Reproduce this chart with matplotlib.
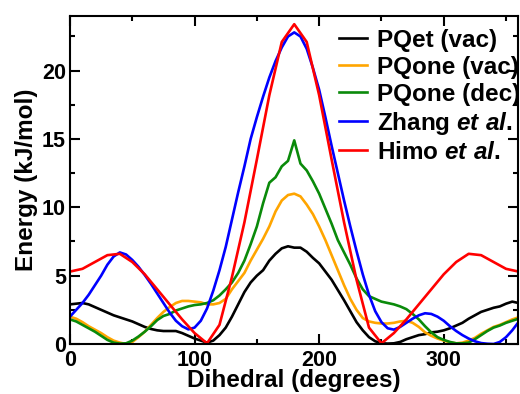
import numpy as np
import matplotlib
matplotlib.use("Agg")
import matplotlib.pyplot as plt
from matplotlib.ticker import MultipleLocator

plt.rcParams['font.family'] = ['Liberation Sans', 'DejaVu Sans']
plt.rcParams['font.weight'] = 'bold'
plt.rcParams['mathtext.fontset'] = 'custom'
plt.rcParams['mathtext.it'] = 'Liberation Sans:italic:bold'
plt.rcParams['mathtext.rm'] = 'Liberation Sans:bold'

# dihedral grid (degrees)
angle5 = np.arange(0, 361, 5)
angle10 = np.arange(0, 361, 10)

labels = ["PQet (vac)", "PQone (vac)", "PQone (dec)",
          r"Zhang $\mathit{et\ al.}$", r"Himo $\mathit{et\ al.}$"]

pqet_vac = [2.90, 2.95, 3.00, 2.90, 2.70, 2.50, 2.30, 2.10, 1.95, 1.80,
            1.65, 1.45, 1.25, 1.10, 1.00, 0.95, 0.95, 0.95, 0.80, 0.60,
            0.40, 0.25, 0.10, 0.25, 0.65, 1.20, 2.00, 2.90, 3.80, 4.50,
            5.00, 5.40, 6.10, 6.60, 7.00, 7.15, 7.05, 7.05, 6.75, 6.30,
            5.90, 5.30, 4.70, 3.95, 3.20, 2.40, 1.60, 1.00, 0.50, 0.20,
            0.05, 0.03, 0.05, 0.15, 0.35, 0.50, 0.65, 0.72, 0.85, 0.90,
            1.00, 1.15, 1.35, 1.55, 1.85, 2.10, 2.35, 2.50, 2.65, 2.75,
            2.95, 3.10, 3.00]

pqone_vac = [2.00, 1.85, 1.60, 1.30, 1.05, 0.80, 0.50, 0.25, 0.10, 0.00,
             0.15, 0.50, 0.90, 1.40, 1.90, 2.35, 2.70, 3.00, 3.15, 3.15,
             3.10, 3.05, 2.90, 2.90, 3.00, 3.30, 4.00, 4.60, 5.20, 6.10,
             6.90, 7.70, 8.60, 9.70, 10.50, 10.90, 11.00, 10.80, 10.20, 9.50,
             8.60, 7.60, 6.50, 5.40, 4.30, 3.30, 2.50, 1.90, 1.65, 1.55,
             1.50, 1.50, 1.55, 1.65, 1.70, 1.55, 1.25, 0.85, 0.60, 0.40,
             0.25, 0.12, 0.05, 0.10, 0.25, 0.45, 0.75, 1.00, 1.25, 1.40,
             1.60, 1.80, 1.95]

pqone_dec = [1.80, 1.65, 1.40, 1.15, 0.90, 0.60, 0.30, 0.10, 0.03, 0.05,
             0.25, 0.55, 0.90, 1.30, 1.75, 2.05, 2.20, 2.45, 2.60, 2.75,
             2.85, 2.90, 3.00, 3.20, 3.55, 4.00, 4.50, 5.20, 6.10, 7.30,
             8.60, 10.30, 11.80, 12.20, 13.00, 13.40, 14.90, 13.20, 12.70, 11.90,
             11.00, 9.90, 8.80, 7.60, 6.70, 5.80, 4.80, 4.00, 3.50, 3.30,
             3.10, 3.00, 2.90, 2.75, 2.55, 2.20, 1.80, 1.30, 0.85, 0.50,
             0.30, 0.15, 0.05, 0.05, 0.10, 0.35, 0.65, 0.95, 1.20, 1.35,
             1.55, 1.70, 1.85]

zhang = [2.00, 2.50, 3.00, 3.60, 4.30, 5.00, 5.80, 6.40, 6.70, 6.55,
         6.15, 5.65, 5.05, 4.40, 3.70, 3.00, 2.30, 1.70, 1.30, 1.07,
         1.20, 1.70, 2.60, 3.90, 5.40, 7.10, 9.10, 11.10, 13.00, 15.00,
         16.60, 18.10, 19.50, 20.70, 21.70, 22.50, 22.80, 22.50, 21.60, 20.20,
         18.60, 16.60, 14.50, 12.50, 10.50, 8.60, 6.80, 5.10, 3.60, 2.40,
         1.60, 1.15, 1.05, 1.25, 1.55, 1.85, 2.10, 2.25, 2.20, 2.00,
         1.70, 1.30, 0.95, 0.65, 0.40, 0.20, 0.07, 0.02, 0.00, 0.15,
         0.50, 1.00, 1.60]

himo = [5.3, 5.5, 6.0, 6.5, 6.6, 6.0, 5.1, 4.0, 2.9, 1.8,
        0.8, 0.05, 1.4, 4.9, 8.9, 13.5, 18.2, 22.1, 23.4, 22.1,
        18.2, 13.5, 8.9, 4.7, 1.2, 0.05, 0.8, 1.8, 2.9, 4.0,
        5.1, 6.0, 6.6, 6.5, 6.0, 5.5, 5.3]

colors = ["black", "#ffa500", "#0a8a0a", "#0000ff", "#ff0000"]

fig = plt.figure(figsize=(5.2, 3.94), dpi=100)
ax = fig.add_axes([0.1346, 0.1269, 0.8625, 0.8325])

series = [(angle5, pqet_vac), (angle5, pqone_vac), (angle5, pqone_dec),
          (angle5, zhang), (angle10, himo)]
for (xs, ys), c, lab in zip(series, colors, labels):
    ax.plot(xs, ys, color=c, lw=1.9, label=lab)

ax.set_xlim(0, 360)
ax.set_ylim(0, 24)
ax.xaxis.set_major_locator(MultipleLocator(100))
ax.xaxis.set_minor_locator(MultipleLocator(50))
ax.yaxis.set_major_locator(MultipleLocator(5))
ax.yaxis.set_minor_locator(MultipleLocator(2.5))
ax.tick_params(which='both', direction='in', top=True, right=True,
               width=1.5, labelsize=15.5)
ax.tick_params(which='major', length=7)
ax.tick_params(which='minor', length=3.5)
ax.tick_params(axis='x', pad=4)
ax.tick_params(axis='y', pad=3)
for s in ax.spines.values():
    s.set_linewidth(1.5)

ax.set_xlabel("Dihedral (degrees)", fontsize=17.5, fontweight='bold', labelpad=-1)
ax.set_ylabel("Energy (kJ/mol)", fontsize=17.5, fontweight='bold', labelpad=3)

ax.legend(loc='upper left', bbox_to_anchor=(339 / 520, 1 - 29 / 394),
          bbox_transform=fig.transFigure, frameon=False, fontsize=17.5,
          borderpad=0, borderaxespad=0, handlelength=1.15, handletextpad=0.4,
          labelspacing=0.16)

fig.savefig("out.png", dpi=100)
